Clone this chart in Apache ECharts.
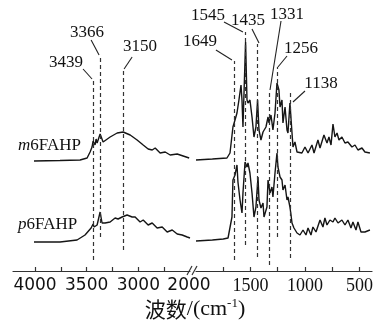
<!DOCTYPE html>
<html><head><meta charset="utf-8">
<script src="https://cdn.jsdelivr.net/npm/echarts@6/dist/echarts.min.js"></script>
<style>html,body{margin:0;padding:0;background:#fff;}#c{width:380px;height:324px;}</style>
</head><body><div id="c"></div>
<script>
// wavenumber (cm-1), intensity (a.u.)
const mLeft = [[4010,110],[3758,110.5],[3564,111],[3496,113],[3467,119],[3448,124],[3438,130],[3419,126],[3409,132],[3399,128],[3370,137],[3341,129],[3273,134],[3205,138],[3147,139],[3079,136],[3012,131],[2953,126],[2905,122],[2866,121],[2837,123],[2789,118],[2740,119],[2692,116],[2624,117],[2566,115],[2508,113]];
const pLeft = [[4010,29],[3758,29],[3593,31],[3516,36],[3457,43],[3438,47],[3428,44],[3399,46],[3370,59],[3351,48],[3322,48],[3273,49],[3225,53],[3196,52],[3157,54],[3109,56],[3060,54],[3031,54],[2983,49],[2953,51],[2905,46],[2866,48],[2818,43],[2769,44],[2721,39],[2672,41],[2624,37],[2576,36],[2527,34],[2500,33]];
const mRight = [[2000,111],[1850,112],[1716,113],[1688,118],[1661,144],[1642,151],[1624,158],[1606,171],[1587,186],[1578,171],[1569,144],[1545,229],[1532,171],[1523,168],[1505,171],[1486,154],[1468,134],[1450,144],[1435,171],[1422,141],[1404,131],[1385,139],[1358,144],[1339,154],[1330,148],[1312,156],[1294,141],[1275,158],[1257,188],[1239,181],[1229,164],[1211,171],[1202,148],[1183,164],[1165,141],[1156,138],[1138,168],[1119,138],[1110,124],[1092,129],[1073,119],[1028,118],[1000,124],[972,118],[936,126],[917,118],[881,131],[862,123],[826,136],[798,128],[780,134],[761,126],[743,147],[725,134],[706,138],[688,131],[661,134],[633,128],[606,129],[569,124],[541,126],[514,121],[477,123],[450,119],[404,118]];
const pRight = [[2000,30],[1850,31],[1750,32],[1706,33],[1670,54],[1661,91],[1642,96],[1624,106],[1615,89],[1596,71],[1578,58],[1569,78],[1550,109],[1532,104],[1523,108],[1505,98],[1486,78],[1468,54],[1450,64],[1431,94],[1422,71],[1404,63],[1385,68],[1376,54],[1349,64],[1339,91],[1321,78],[1303,84],[1294,74],[1275,98],[1257,118],[1248,104],[1229,94],[1211,91],[1202,81],[1183,86],[1165,71],[1156,74],[1138,64],[1128,56],[1119,48],[1101,43],[1073,38],[1046,36],[1018,41],[991,36],[972,43],[945,36],[927,44],[899,39],[862,51],[835,44],[817,53],[798,46],[771,51],[743,49],[725,53],[697,48],[661,51],[633,46],[606,51],[578,43],[560,49],[532,41],[514,49],[486,39],[450,39],[404,41]];

const leftTicks = [2750,3000,3250,3500,3750,4000];
const leftLabels = [3000,3500,4000];
const rightTicks = [500,750,1000,1250,1500,1750];
const rightLabels = [500,1000,1500,2000];

// peak annotations: wavenumber, dashed line bottom/top, arrow start/end, label position
const leftPeaks = [3439,3366,3150];
const rightPeaks = [1649,1545,1435,1331,1256,1138];
const leftDash = [[11,191],[34,214],[21,201]];
const rightDash = [[11,210],[26,239],[14,227],[6,180],[34,204],[13,178]];
const leftArrows = [[[3535,202],[3448,192]],[[3457,231],[3380,216]],[[3060,214],[3138,202]]];
const rightArrows = [[[1817,221],[1670,211]],[[1743,249],[1569,239]],[[1486,242],[1422,228]],[[1220,250],[1321,181]],[[1165,215],[1248,204]],[[1000,180],[1110,169]]];
const leftLabelPos = [[3700,208],[3496,238],[2983,224]];
const rightLabelPos = [[1963,229],[1890,255],[1523,250],[1165,256],[1037,222],[853,187]];

const INK = '#151515';
const dashStyle = {type:[4,3], color:'#333', width:1.2};
function dashLines(peaks, ext){
  return peaks.map((w,i)=>[{coord:[w,ext[i][0]]},{coord:[w,ext[i][1]]}]);
}
function arrows(arr){
  return arr.map(a=>[{coord:a[0]},{coord:a[1]}]);
}
function labels(peaks,pos){
  return peaks.map((w,i)=>({name:String(w), coord:pos[i]}));
}
const lineBase = {type:'line', showSymbol:false, symbol:'none', smooth:false, clip:false, lineStyle:{color:INK,width:1.4}, silent:true};
const mpStyle = {symbol:'circle', symbolSize:1, itemStyle:{color:'rgba(0,0,0,0)'}, label:{show:true, position:'inside', formatter:p=>p.name, color:'#111', fontFamily:'Liberation Serif', fontSize:17}};
const mlArrow = {silent:true, symbol:['none','arrow'], symbolSize:[0,6], lineStyle:{type:'solid',color:'#222',width:1.1}, label:{show:false}};
const mlDash = {silent:true, symbol:['none','none'], lineStyle:dashStyle, label:{show:false}};

const axisCommon = {
  type:'value', inverse:true,
  axisLine:{show:true, lineStyle:{color:'#333', width:1.2}},
  axisTick:{show:true, inside:true, length:4, lineStyle:{color:'#333', width:1.2}},
  splitLine:{show:false}
};
const option = {
  animation:false,
  backgroundColor:'#fff',
  grid:[
    {left:13, top:0, width:177, height:271},
    {left:196, top:0, width:176, height:271}
  ],
  xAxis:[
    Object.assign({}, axisCommon, {gridIndex:0, min:2500, max:4213,
      axisTick:Object.assign({}, axisCommon.axisTick, {customValues:leftTicks}),
      axisLabel:{customValues:leftLabels, margin:6, color:'#111', fontFamily:'DejaVu Sans', fontSize:17, formatter:v=>String(v)}}),
    Object.assign({}, axisCommon, {gridIndex:1, min:385, max:2000,
      axisTick:Object.assign({}, axisCommon.axisTick, {customValues:rightTicks}),
      axisLabel:{customValues:rightLabels, margin:6, color:'#111', fontFamily:'Liberation Serif', fontSize:18,
        formatter:v=> v===2000 ? '{s|2000}' : String(v),
        rich:{s:{fontFamily:'DejaVu Sans', fontSize:17, color:'#111', padding:[0,14,0,0]}}}})
  ],
  yAxis:[
    {type:'value', gridIndex:0, min:0, max:271, show:false},
    {type:'value', gridIndex:1, min:0, max:271, show:false}
  ],
  series:[
    Object.assign({}, lineBase, {name:'m6FAHP', xAxisIndex:0, yAxisIndex:0, data:mLeft,
      markLine:Object.assign({}, mlDash, {data:dashLines(leftPeaks,leftDash)})}),
    Object.assign({}, lineBase, {name:'p6FAHP', xAxisIndex:0, yAxisIndex:0, data:pLeft,
      markLine:Object.assign({}, mlArrow, {data:arrows(leftArrows)}),
      markPoint:Object.assign({}, mpStyle, {data:labels(leftPeaks,leftLabelPos)})}),
    Object.assign({}, lineBase, {name:'m6FAHP ', xAxisIndex:1, yAxisIndex:1, data:mRight,
      markLine:Object.assign({}, mlDash, {data:dashLines(rightPeaks,rightDash)})}),
    Object.assign({}, lineBase, {name:'p6FAHP ', xAxisIndex:1, yAxisIndex:1, data:pRight,
      markLine:Object.assign({}, mlArrow, {data:arrows(rightArrows)}),
      markPoint:Object.assign({}, mpStyle, {data:labels(rightPeaks,rightLabelPos)})})
  ],
  graphic:[
    {type:'line', shape:{x1:187,y1:275,x2:192,y2:266}, style:{stroke:'#333', lineWidth:1.2}},
    {type:'line', shape:{x1:192,y1:275,x2:197,y2:266}, style:{stroke:'#333', lineWidth:1.2}},
    {type:'text', left:18, top:137, style:{text:'{i|m}{r|6FAHP}', rich:{
      i:{fontFamily:'Liberation Serif', fontStyle:'italic', fontSize:17, fill:'#111'},
      r:{fontFamily:'Liberation Serif', fontSize:17, fill:'#111'}}}},
    {type:'text', left:18, top:216, style:{text:'{i|p}{r|6FAHP}', rich:{
      i:{fontFamily:'Liberation Serif', fontStyle:'italic', fontSize:17, fill:'#111'},
      r:{fontFamily:'Liberation Serif', fontSize:17, fill:'#111'}}}},
    {type:'text', x:195, y:309, style:{text:'{a|波数}{b|/(cm}{s|-1}{b|)}', align:'center', verticalAlign:'middle', rich:{
      a:{fontFamily:'Noto Sans CJK SC', fontSize:21, fill:'#111'},
      b:{fontFamily:'Liberation Serif', fontSize:22, fill:'#111'},
      s:{fontFamily:'Liberation Serif', fontSize:13, fill:'#111', verticalAlign:'top', padding:[0,0,10,0]}}}}
  ]
};
const chart = echarts.init(document.getElementById('c'), null, {renderer:'canvas'});
chart.setOption(option);
</script></body></html>
